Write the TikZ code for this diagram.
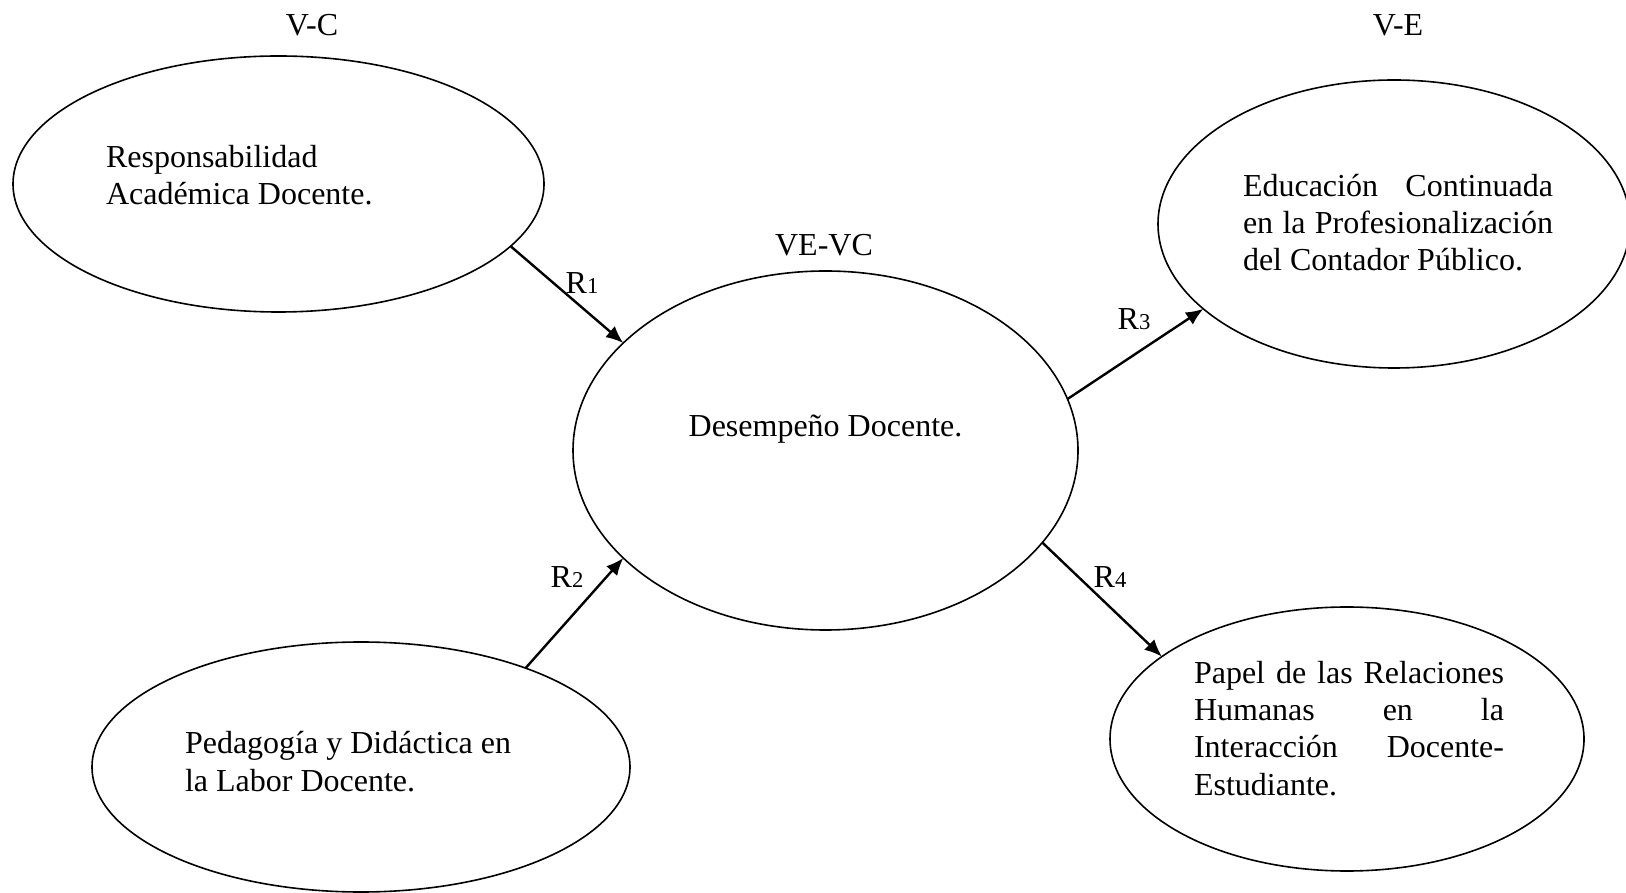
\documentclass[tikz,border=0pt]{standalone}
\usepackage{fontspec}
\setmainfont{Liberation Serif}
\usetikzlibrary{shapes.geometric,arrows.meta}
\newlength\jw
\setlength\jw{116.25pt}
\newcommand\subd[1]{{\fontsize{8.5}{8.5}\selectfont #1}}
\newcommand\jline[1]{\makebox[\jw][l]{#1}}
\begin{document}
\begin{tikzpicture}[x=0.375pt,y=-0.375pt,
  oval/.style={ellipse,draw,line width=0.6pt,inner sep=0pt,outer sep=0pt},
  txt/.style={inner sep=0pt,outer sep=0pt,font=\fontsize{12}{13.9}\selectfont,align=left},
  lbl/.style={inner sep=0pt,outer sep=0pt,font=\fontsize{12}{13.9}\selectfont},
  arr/.style={line width=0.9pt,-{Latex[length=6.5pt,width=5.5pt]}}]
\useasboundingbox (0,0) rectangle (1626,893);

% ellipses
\node[oval,minimum width=199.125pt,minimum height=96pt] (e1) at (278.5,184) {};
\node[oval,minimum width=189.375pt,minimum height=134.625pt] (e2) at (825.5,450.5) {};
\node[oval,minimum width=177pt,minimum height=108pt] (e3) at (1394,224) {};
\node[oval,minimum width=201.75pt,minimum height=93.75pt] (e4) at (361,767) {};
\node[oval,minimum width=177.75pt,minimum height=99pt] (e5) at (1347,739) {};

% texts (anchor base = baseline of the last line)
\node[txt,anchor=base west] (t1) at (106,205) {Responsabilidad\\Académica Docente.};
\node[txt,anchor=base] (t2) at (825.5,437) {Desempeño Docente.};
\node[txt,anchor=base west] (t3) at (1243,271)
  {\jline{Educación\hfill Continuada}\\\jline{en\hfill la\hfill Profesionalización}\\del Contador Público.};
\node[txt,anchor=base west] (t4) at (185,791) {Pedagogía y Didáctica en\\la Labor Docente.};
\node[txt,anchor=base west] (t5) at (1194,795)
  {\jline{Papel\hfill de\hfill las\hfill Relaciones}\\\jline{Humanas\hfill en\hfill la}\\\jline{Interacción\hfill Docente-}\\Estudiante.};

% headings
\node[lbl] (vc) at (312,25) {V-C};
\node[lbl] (ve) at (1398,25) {V-E};
\node[lbl] (vevc) at (824,245) {VE-VC};

% arrows
\draw[arr] (e1.-15.2) -- (e2.152.3);
\draw[arr] (e4.31.7) -- (e2.208.9);
\draw[arr] (e2.12) -- (e3.204.1);
\draw[arr] (e2.-23) -- (e5.156.3);

% relation labels
\node[lbl] (r1) at (582,283) {R\subd{1}};
\node[lbl] (r2) at (567,577) {R\subd{2}};
\node[lbl] (r3) at (1134,319) {R\subd{3}};
\node[lbl] (r4) at (1110,577) {R\subd{4}};
\end{tikzpicture}
\end{document}
